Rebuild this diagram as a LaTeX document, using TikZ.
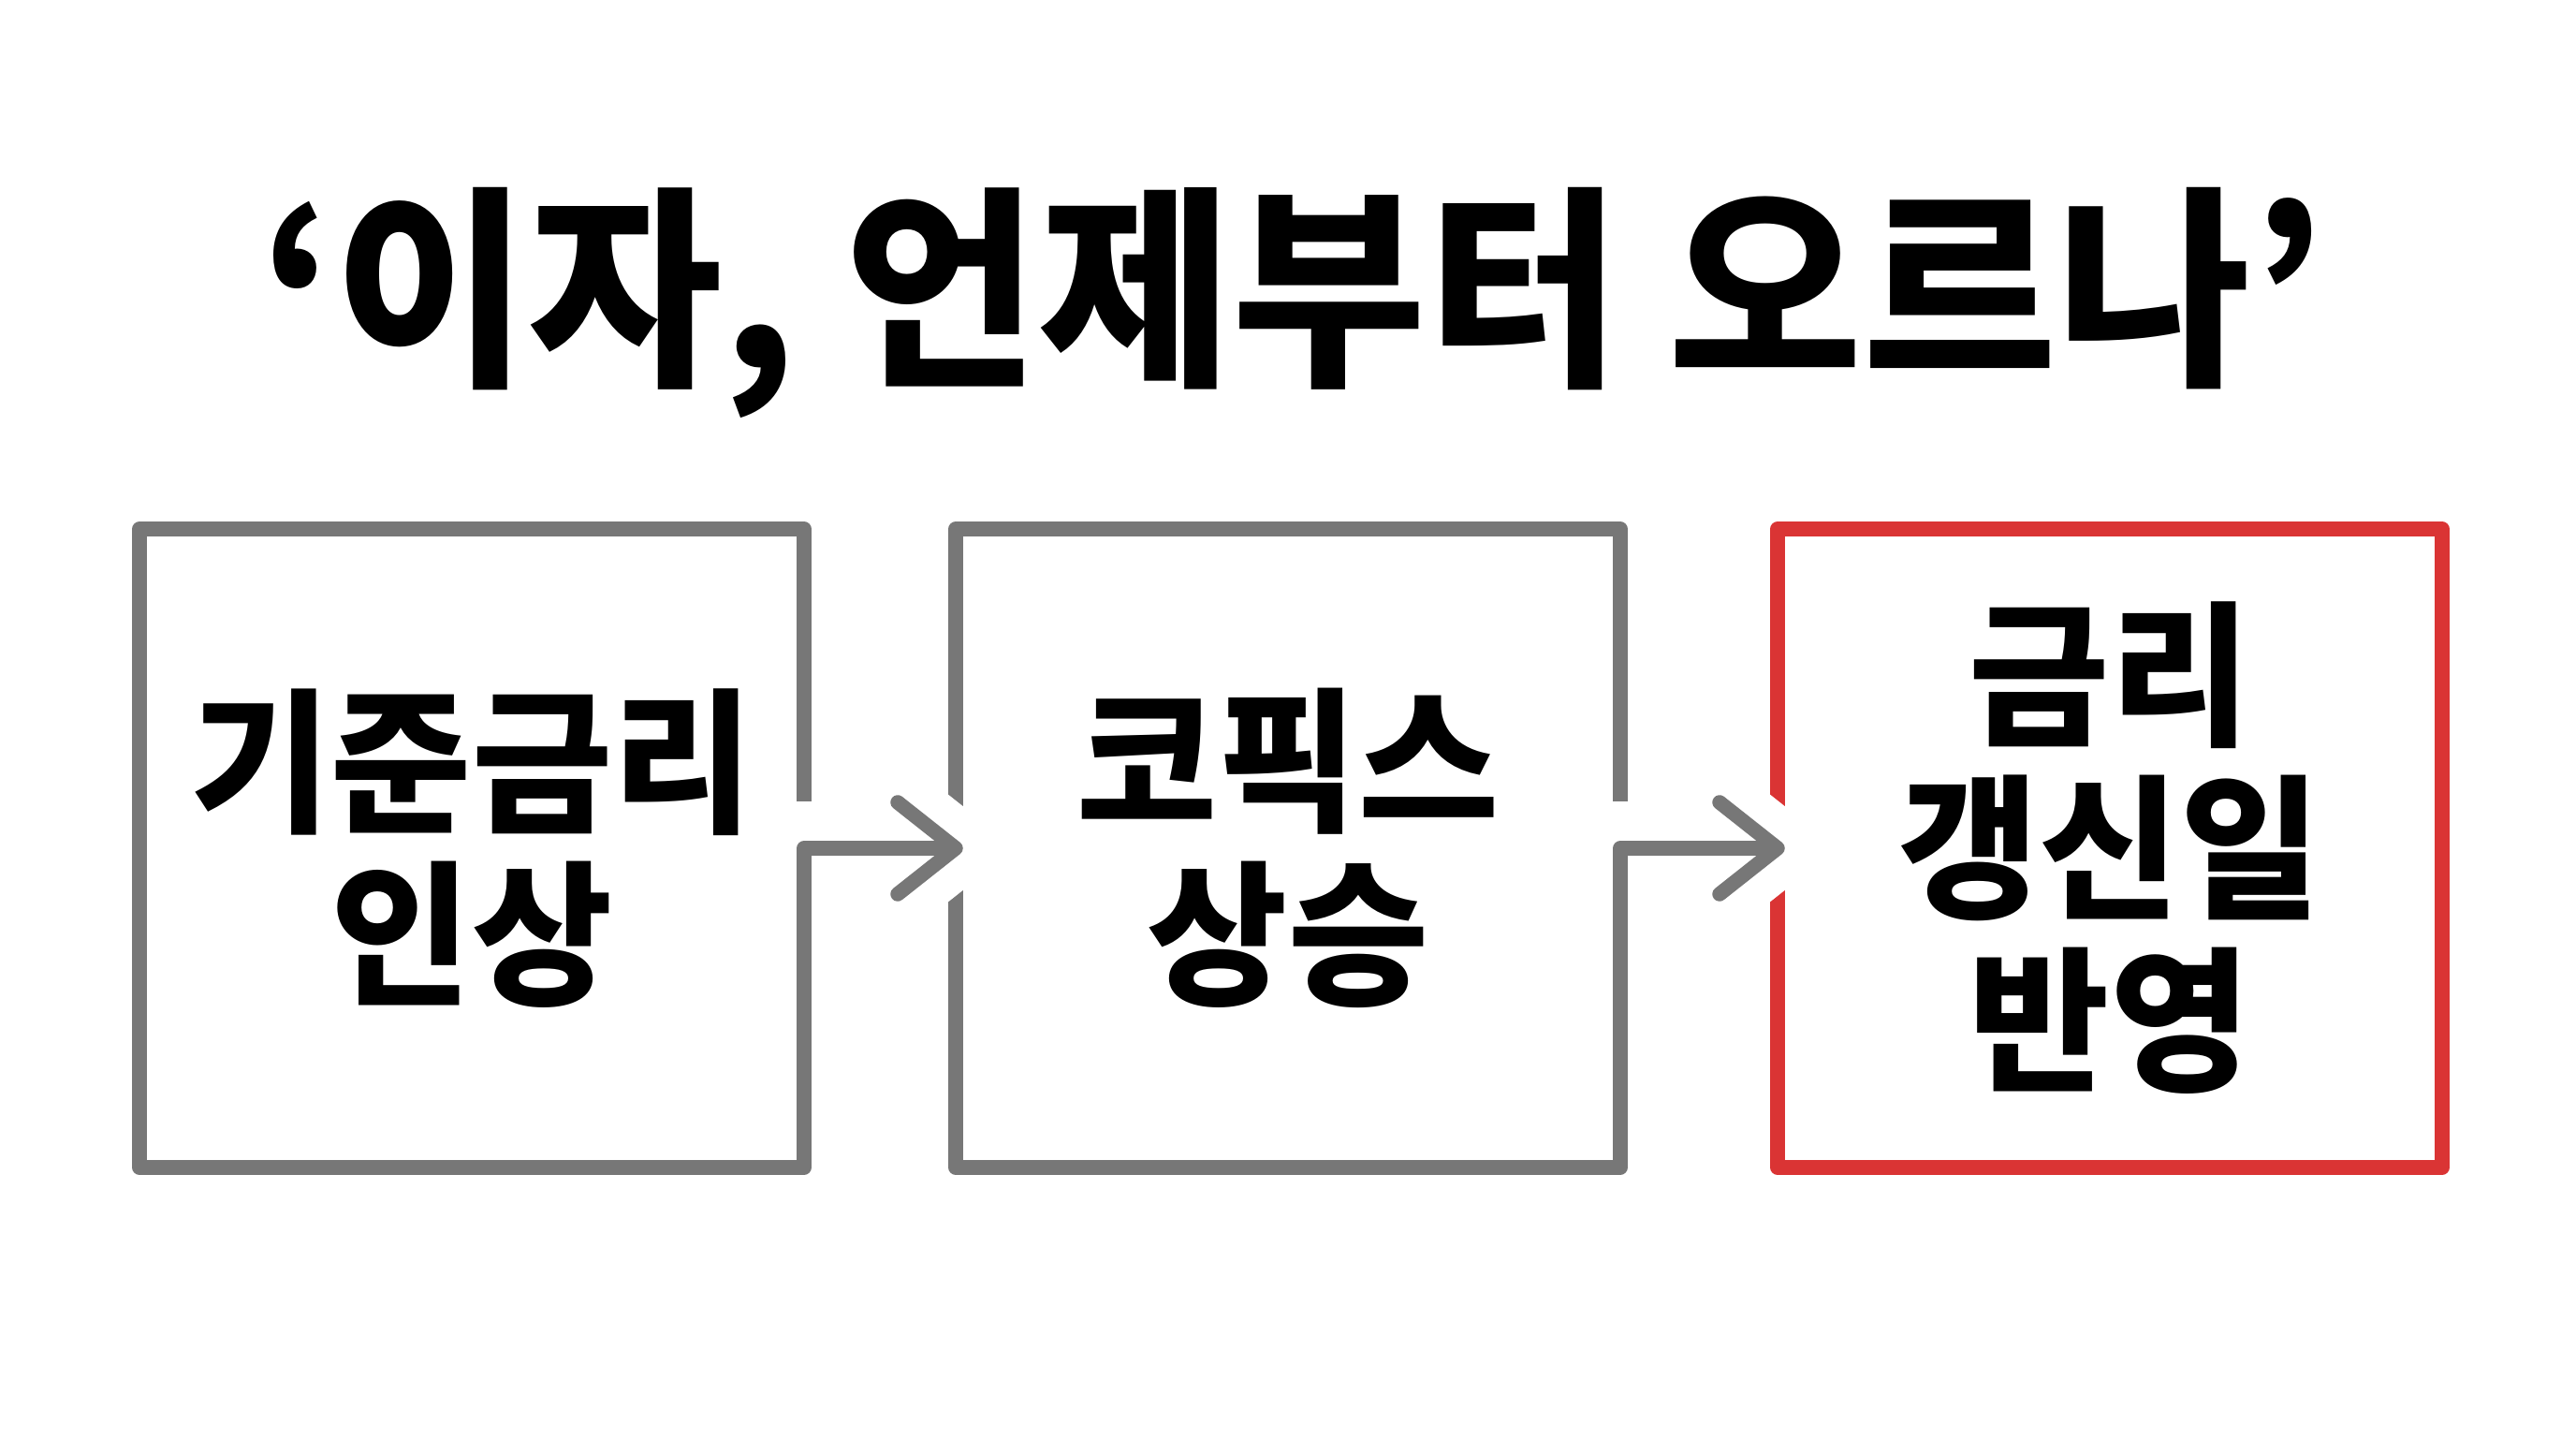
\documentclass[tikz,border=0pt]{standalone}
\usepackage{fontspec}
\newfontfamily\krfont{Noto Sans CJK KR}[FakeStretch=0.98]
\usetikzlibrary{positioning}
\definecolor{boxgray}{RGB}{119,119,119}
\definecolor{boxred}{RGB}{218,52,52}

\begin{document}
\begin{tikzpicture}[
    box/.style={minimum width=7.10cm, minimum height=6.82cm, inner sep=0pt, outer sep=0pt,
      align=center, font=\krfont\bfseries\fontsize{47.4}{52.5}\selectfont},
    edge/.style={line width=0.155cm, line join=round},
    halo/.style={white, line width=0.8cm, line cap=round, line join=round},
    chev/.style={boxgray, line width=0.155cm, line cap=round, line join=round}]
        \useasboundingbox (0,0) rectangle (27.52,15.36);
        \node[font=\krfont\bfseries\fontsize{65.4}{75}\selectfont] (title) at (13.81,12.13) {‘이자, 언제부터 오르나’};%제목

        \node[box] (b1) at (5.04,6.30) {기준금리\\인상};
        \node[box, right=1.62cm of b1] (b2) {코픽스\\상승};
        \node[box, right=1.68cm of b2] (b3) {금리\\갱신일\\반영};

        % 상자
        \draw[edge, boxgray] ([yshift=5mm]b1.east) -- (b1.north east) -- (b1.north west)
            -- (b1.south west) -- (b1.south east) -- (b1.east) -- (b2.west);
        \draw[edge, boxgray] ([yshift=5mm]b2.east) -- (b2.north east) -- (b2.north west)
            -- (b2.south west) -- (b2.south east) -- (b2.east) -- (b3.west);
        \draw[edge, boxred] (b3.north west) rectangle (b3.south east);

        % 화살표
        \draw[halo] (b2.west) ++(-0.62,0.49) -- (b2.west) -- ++(-0.62,-0.49);
        \draw[halo] (b3.west) ++(-0.62,0.49) -- (b3.west) -- ++(-0.62,-0.49);
        \draw[edge, boxgray] (b1.east) -- (b2.west);
        \draw[edge, boxgray] (b2.east) -- (b3.west);
        \draw[chev] (b2.west) ++(-0.62,0.49) -- (b2.west) -- ++(-0.62,-0.49);
        \draw[chev] (b3.west) ++(-0.62,0.49) -- (b3.west) -- ++(-0.62,-0.49);
\end{tikzpicture}
\end{document}
